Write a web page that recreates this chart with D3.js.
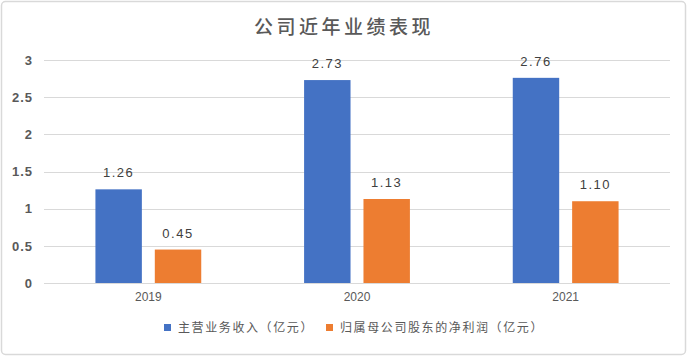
<!DOCTYPE html>
<html><head><meta charset="utf-8">
<script src="https://cdn.jsdelivr.net/npm/d3@7"></script>
<style>
html,body{margin:0;padding:0;background:#fff;}
svg{display:block;}
</style></head>
<body>
<svg id="chart" width="688" height="358"></svg>
<script>
const title = "公司近年业绩表现";
const categories = ["2019", "2020", "2021"];
const seriesNames = ["主营业务收入（亿元）", "归属母公司股东的净利润（亿元）"];
const revenue = [1.26, 2.73, 2.76];
const netProfit = [0.45, 1.13, 1.10];
const yTicks = [0, 0.5, 1, 1.5, 2, 2.5, 3];
const colors = ["#4472C4", "#ED7D31"];

const series = [revenue, netProfit];
const svg = d3.select("#chart");
const font = "'Noto Sans CJK SC','Noto Sans',sans-serif";
const latin = "'Liberation Sans',Arial,sans-serif";

svg.append("rect").attr("x", 1.5).attr("y", 1.5).attr("width", 684).attr("height", 353)
  .attr("rx", 4).attr("fill", "#fff").attr("stroke", "#d9d9d9").attr("stroke-width", 1.5);

const pLeft = 44, pRight = 670, pTop = 60, pBottom = 283;
const x0 = d3.scaleBand().domain(categories).range([pLeft, pRight]).padding(0);
const x1 = d3.scaleBand().domain(d3.range(series.length)).range([0, x0.bandwidth()])
  .paddingInner(0.218).paddingOuter(0.866);
const y = d3.scaleLinear().domain([0, 3]).range([pBottom, pTop]);

// gridlines
svg.append("g").selectAll("line").data(yTicks).join("line")
  .attr("x1", pLeft).attr("x2", pRight)
  .attr("y1", d => Math.round(y(d)) + 0.5).attr("y2", d => Math.round(y(d)) + 0.5)
  .attr("stroke", "#d9d9d9").attr("stroke-width", 1);

// y axis labels
const yAxis = d3.axisLeft(y).tickValues(yTicks).tickSize(0).tickPadding(0)
  .tickFormat(d => String(d));
const yg = svg.append("g").attr("transform", `translate(33,0)`).call(yAxis);
yg.select(".domain").remove();
yg.selectAll("text").attr("font-family", latin).attr("font-size", 13).attr("font-weight", "bold")
  .attr("fill", "#595959").attr("letter-spacing", "1px");

// x axis labels
const xAxis = d3.axisBottom(x0).tickSize(0).tickPadding(0);
const xg = svg.append("g").attr("transform", `translate(0,${pBottom + 9})`).call(xAxis);
xg.select(".domain").remove();
xg.selectAll("text").attr("font-family", latin).attr("font-size", 12).attr("fill", "#595959");

// bars
const groups = svg.append("g").selectAll("g").data(categories).join("g")
  .attr("transform", d => `translate(${x0(d)},0)`);
groups.selectAll("rect").data((d, i) => series.map((s, k) => ({k, v: s[i]}))).join("rect")
  .attr("x", d => x1(d.k)).attr("width", x1.bandwidth())
  .attr("y", d => y(d.v)).attr("height", d => y(0) - y(d.v))
  .attr("fill", d => colors[d.k]);
groups.selectAll("text").data((d, i) => series.map((s, k) => ({k, v: s[i]}))).join("text")
  .attr("x", d => x1(d.k) + x1.bandwidth() / 2).attr("y", d => y(d.v) - 12)
  .attr("text-anchor", "middle").attr("font-family", latin).attr("font-size", 13)
  .attr("letter-spacing", "1.5px")
  .attr("fill", "#404040").text(d => d3.format(".2f")(d.v));

// title
svg.append("text").attr("x", 344).attr("y", 34).attr("text-anchor", "middle")
  .attr("font-family", font).attr("font-size", 19).attr("font-weight", 500)
  .attr("letter-spacing", "3.5px").attr("fill", "#595959").text(title);

// legend
const legendX = [164, 326];
const lg = svg.append("g").selectAll("g").data(seriesNames).join("g")
  .attr("transform", (d, i) => `translate(${legendX[i]},324)`);
lg.append("rect").attr("width", 7).attr("height", 7).attr("fill", (d, i) => colors[i]);
lg.append("text").attr("x", 14).attr("y", 8).attr("font-family", font).attr("font-size", 12)
  .attr("letter-spacing", "1.6px").attr("fill", "#595959").text(d => d);
</script>
</body></html>
